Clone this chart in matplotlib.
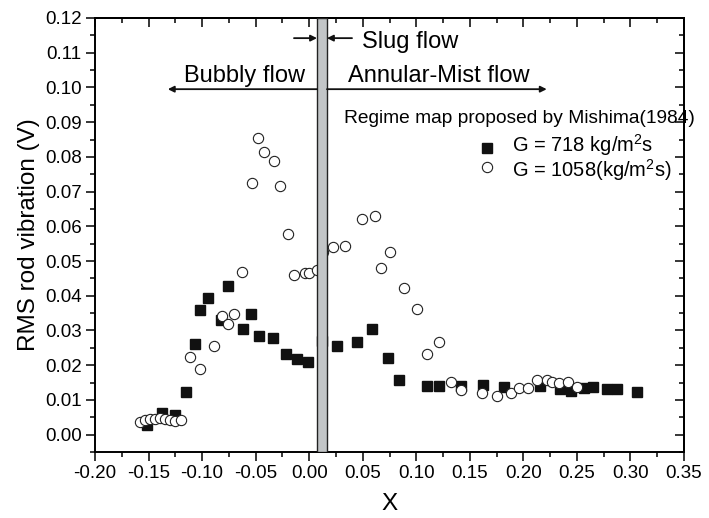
import numpy as np
import matplotlib
matplotlib.use("Agg")
import matplotlib.pyplot as plt
from matplotlib.ticker import MultipleLocator, FormatStrFormatter, NullFormatter

plt.rcParams['font.family'] = ['Liberation Sans', 'DejaVu Sans']
plt.rcParams['mathtext.fontset'] = 'custom'
plt.rcParams['mathtext.rm'] = 'Liberation Sans'
plt.rcParams['mathtext.it'] = 'Liberation Sans:italic'

# G = 718 kg/m2s
x_718 = [-0.1517, -0.1377, -0.1253, -0.1153, -0.1066, -0.1020, -0.0942, -0.0827,
         -0.0761, -0.0618, -0.0540, -0.0469, -0.0338, -0.0220, -0.0111, -0.0011,
         0.0120, 0.0262, 0.0443, 0.0583, 0.0732, 0.0835, 0.1103, 0.1215,
         0.1420, 0.1626, 0.1820, 0.2155, 0.2342, 0.2445, 0.2569, 0.2647,
         0.2777, 0.2870, 0.3065]
y_718 = [0.0029, 0.0062, 0.0058, 0.0124, 0.0260, 0.0360, 0.0393, 0.0331,
         0.0428, 0.0303, 0.0348, 0.0284, 0.0278, 0.0233, 0.0219, 0.0209,
         0.0270, 0.0256, 0.0268, 0.0304, 0.0220, 0.0157, 0.0140, 0.0140,
         0.0140, 0.0142, 0.0138, 0.0141, 0.0131, 0.0126, 0.0135, 0.0138,
         0.0131, 0.0131, 0.0124]

# G = 1058 kg/m2s
x_1058 = [-0.158, -0.153, -0.149, -0.144, -0.139, -0.135, -0.130, -0.125, -0.120,
          -0.1110, -0.1020, -0.0889, -0.0817, -0.0761, -0.0699, -0.0627, -0.0537,
          -0.0478, -0.0419, -0.0331, -0.0270, -0.0198, -0.0139, -0.0039, 0.0001,
          0.0070, 0.0125, 0.0225, 0.0334, 0.0493, 0.0615, 0.0671, 0.0755,
          0.0882, 0.1003, 0.1100, 0.1214, 0.1324, 0.1421, 0.1610, 0.1750,
          0.1885, 0.1960, 0.2046, 0.2124, 0.2224, 0.2264, 0.2336, 0.2414, 0.2504]
y_1058 = [0.0036, 0.0042, 0.0045, 0.0044, 0.0047, 0.0046, 0.0042, 0.0040, 0.0042,
          0.0225, 0.0189, 0.0254, 0.0342, 0.0319, 0.0347, 0.0469, 0.0724,
          0.0854, 0.0815, 0.0788, 0.0715, 0.0578, 0.0460, 0.0465, 0.0465,
          0.0475, 0.0525, 0.0541, 0.0543, 0.0622, 0.0630, 0.0481, 0.0527,
          0.0421, 0.0361, 0.0232, 0.0267, 0.0153, 0.0129, 0.0119, 0.0112,
          0.0119, 0.0135, 0.0135, 0.0157, 0.0157, 0.0153, 0.0148, 0.0153, 0.0138]

labels = [r'G = 718 kg/m$^2$s', r'G = 1058(kg/m$^2$s)']

# slug flow band
slug_lo, slug_hi = 0.0073, 0.0166

fig = plt.figure(figsize=(7.09, 5.18), dpi=100)
ax = fig.add_axes([95 / 709, 1 - 452 / 518, 589 / 709, 434 / 518])

ax.plot(x_718, y_718, ls='none', marker='s', ms=6.8, mfc='#111111', mec='#111111', zorder=3)
ax.plot(x_1058, y_1058, ls='none', marker='o', ms=7.4, mfc='white', mec='#222222',
        mew=0.8, zorder=3)

ax.axvspan(slug_lo, slug_hi, facecolor='#c2c5c7', edgecolor='#222222', lw=1.0, zorder=4)

ax.set_xlim(-0.2, 0.35)
ax.set_ylim(-0.005, 0.12)

def set_ticks(axis_obj, major, minor, fmt=True):
    axis_obj.set_major_locator(MultipleLocator(major))
    axis_obj.set_minor_locator(MultipleLocator(minor))
    if fmt:
        axis_obj.set_major_formatter(FormatStrFormatter('%.2f'))
    else:
        axis_obj.set_major_formatter(NullFormatter())

set_ticks(ax.xaxis, 0.05, 0.025)
set_ticks(ax.yaxis, 0.01, 0.005)

for s in ax.spines.values():
    s.set_linewidth(1.4)
ax.tick_params(which='both', direction='out', labelsize=13.5, width=1.1, pad=3,
               top=False, right=False)
ax.tick_params(which='major', length=6.5)
ax.tick_params(which='minor', length=3.6)

# inward ticks on the top and right spines
top = ax.secondary_xaxis('top')
right = ax.secondary_yaxis('right')
set_ticks(top.xaxis, 0.05, 0.025, fmt=False)
set_ticks(right.yaxis, 0.01, 0.005, fmt=False)
for sec in (top, right):
    sec.tick_params(which='both', direction='in', width=1.1)
    sec.tick_params(which='major', length=6.5)
    sec.tick_params(which='minor', length=3.6)
    for s in sec.spines.values():
        s.set_linewidth(1.4)

ax.set_xlabel('X', fontsize=17.5, labelpad=8)
ax.set_ylabel('RMS rod vibration (V)', fontsize=17.5, labelpad=4)

# flow regime annotations
arrow = dict(arrowstyle='-|>', lw=1.3, color='#111111', mutation_scale=9, shrinkA=0, shrinkB=0)
ax.annotate('', xy=(-0.132, 0.0995), xytext=(slug_lo, 0.0995), arrowprops=arrow, zorder=5)
ax.annotate('', xy=(0.2218, 0.0995), xytext=(slug_hi, 0.0995), arrowprops=arrow, zorder=5)
ax.annotate('', xy=(slug_lo, 0.1142), xytext=(-0.0142, 0.1142), arrowprops=arrow, zorder=5)
ax.annotate('', xy=(slug_hi, 0.1142), xytext=(0.040, 0.1142), arrowprops=arrow, zorder=5)

ax.text(-0.004, 0.1017, 'Bubbly flow', fontsize=17, ha='right', va='baseline')
ax.text(0.0365, 0.1017, 'Annular-Mist flow', fontsize=17, ha='left', va='baseline')
ax.text(0.049, 0.1113, 'Slug flow', fontsize=17, ha='left', va='baseline')
ax.text(0.0325, 0.0897, 'Regime map proposed by Mishima(1984)', fontsize=13.8,
        ha='left', va='baseline')

# legend: markers plus a two-line label block
ax.plot([0.1657], [0.0826], ls='none', marker='s', ms=6.8, mfc='#111111', mec='#111111')
ax.plot([0.1657], [0.0770], ls='none', marker='o', ms=7.4, mfc='white', mec='#222222', mew=0.8)
ax.text(0.189, 0.0797, '\n'.join(labels), fontsize=14.5, ha='left', va='center',
        linespacing=0.95)

fig.savefig('out.png', dpi=100)
